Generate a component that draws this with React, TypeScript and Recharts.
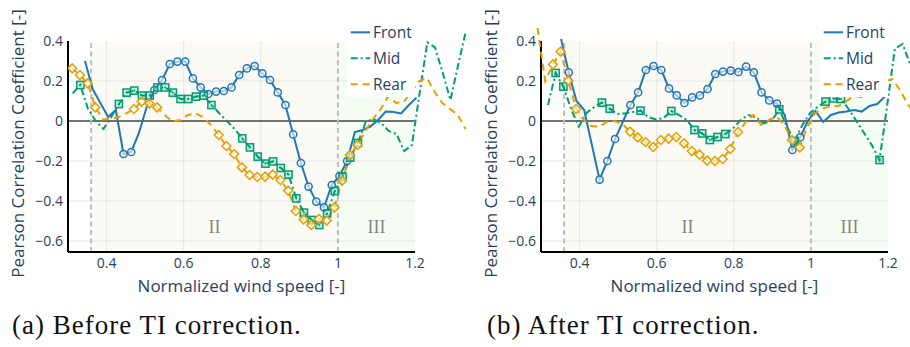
import React from "react";
import {
  Line,
  LineChart,
  ReferenceArea,
  ReferenceDot,
  ReferenceLine,
  XAxis,
  YAxis
} from "recharts";

// Normalized wind-speed bins shared by every series
const speedBins = [
  0.28, 0.3, 0.32, 0.34, 0.36, 0.38, 0.4, 0.42, 0.44, 0.46, 0.48, 0.5, 0.52, 0.54,
  0.56, 0.58, 0.6, 0.62, 0.64, 0.66, 0.68, 0.7, 0.72, 0.74, 0.76, 0.78, 0.8, 0.82,
  0.84, 0.86, 0.88, 0.9, 0.92, 0.94, 0.96, 0.98, 1.0, 1.02, 1.04, 1.06, 1.08, 1.1,
  1.12, 1.14, 1.16, 1.18, 1.2, 1.22, 1.24, 1.26, 1.28, 1.3, 1.32, 1.34, 1.36
];

// (a) before TI correction, values per bin (null = empty bin)
const frontBefore = [
  null, null, null, 0.3, 0.16, 0.09, 0.02, 0.055, -0.165, -0.155, -0.06, 0.07, 0.155,
  0.205, 0.285, 0.297, 0.297, 0.213, 0.168, 0.135, 0.147, 0.15, 0.168, 0.23, 0.263,
  0.275, 0.238, 0.205, 0.143, 0.08, -0.067, -0.21, -0.328, -0.403, -0.432, -0.32,
  -0.275, -0.2, -0.055, -0.045, -0.028, 0.005, 0.047, 0.045, 0.038, 0.08, 0.117
];
const midBefore = [
  null, 0.138, 0.18, 0.06, 0.0, -0.04, 0.02, 0.085, 0.142, 0.152, 0.127, 0.127, 0.168,
  0.168, 0.142, 0.11, 0.11, 0.122, 0.127, 0.08, 0.04, 0.0, -0.04, -0.087, -0.132,
  -0.178, -0.213, -0.202, -0.235, -0.268, -0.387, -0.458, -0.495, -0.52, -0.462,
  -0.35, -0.278, -0.183, -0.11, -0.005, 0.01, -0.01, -0.05, -0.065, -0.15, -0.12,
  0.14, 0.393, 0.368, 0.24, 0.105, 0.28, 0.45
];
const rearBefore = [
  null, 0.263, 0.23, 0.188, 0.068, 0.008, 0.01, 0.02, 0.038, 0.06, 0.097, 0.088, 0.068,
  0.03, -0.003, 0.005, 0.03, 0.038, 0.018, -0.02, -0.07, -0.125, -0.165, -0.232,
  -0.27, -0.28, -0.278, -0.268, -0.295, -0.348, -0.45, -0.492, -0.52, -0.49, -0.498,
  -0.432, -0.298, -0.17, -0.12, -0.05, 0.01, 0.06, 0.125, 0.09, 0.095, 0.147, 0.2,
  0.215, 0.145, 0.09, 0.06, 0.03, -0.04
];

// (b) after TI correction
const frontAfter = [
  null, null, null, 0.41, 0.243, 0.1, 0.055, -0.12, -0.293, -0.2, -0.09, -0.005, 0.08,
  0.143, 0.255, 0.275, 0.255, 0.163, 0.128, 0.09, 0.118, 0.128, 0.16, 0.235, 0.247,
  0.252, 0.245, 0.272, 0.243, 0.143, 0.103, 0.087, 0.03, -0.145, -0.082, 0.0, 0.05,
  -0.005, 0.03, 0.042, 0.047, 0.055, 0.047, 0.075, 0.085, 0.122
];
const midAfter = [
  null, 0.08, 0.24, 0.172, 0.06, -0.028, 0.04, 0.07, 0.092, 0.062, 0.035, 0.038, 0.045,
  0.052, 0.02, 0.008, 0.015, 0.05, 0.03, 0.005, -0.045, -0.062, -0.095, -0.08,
  -0.065, -0.037, 0.005, 0.03, 0.018, -0.012, 0.0, 0.058, -0.03, -0.1, -0.02, 0.04,
  0.072, 0.097, 0.113, 0.11, 0.06, 0.0, -0.06, -0.12, -0.195, 0.08, 0.363, 0.385, 0.28
];
const rearAfter = [
  0.465, 0.2, 0.283, 0.347, 0.202, 0.06, 0.005, -0.025, -0.028, -0.005, 0.0, -0.015,
  -0.053, -0.082, -0.105, -0.13, -0.095, -0.088, -0.08, -0.112, -0.15, -0.168, -0.198,
  -0.2, -0.19, -0.14, -0.055, -0.005, 0.03, -0.02, 0.005, 0.022, -0.02, -0.095,
  -0.132, -0.028, 0.04, 0.063, 0.072, 0.075, 0.097, 0.125, 0.12, 0.147, 0.175, 0.197,
  0.21, 0.155, 0.085, 0.03
];

// bins where the correlation is flagged (drawn with a marker)
const range = (a: number, b: number) => Array.from({ length: b - a + 1 }, (_, i) => a + i);
const frontBeforeMarked = [8, 9, ...range(12, 37)];
const midBeforeMarked = [2, ...range(7, 19), ...range(23, 38)];
const rearBeforeMarked = [...range(1, 4), ...range(9, 12), ...range(20, 38)];
const frontAfterMarked = [4, 8, 9, 10, ...range(12, 31), 33, 34];
const midAfterMarked = [2, 3, 8, 9, 13, 17, ...range(20, 24), 31, 33, 37, 38, 39, 44];
const rearAfterMarked = [2, 3, 4, 5, ...range(12, 26), 33, 34];

// per-turbine bin centre offsets
const binShift = {
  frontBefore: 0.004,
  midBefore: 0.012,
  rearBefore: 0.011,
  frontAfter: 0.012,
  midAfter: 0.018,
  rearAfter: 0.011
};

const xTicks = [0.4, 0.6, 0.8, 1, 1.2];
const yTicks = [-0.6, -0.4, -0.2, 0, 0.2, 0.4];
const gridX = [0.4, 0.6, 0.8];
const gridY = [-0.6, -0.4, -0.2, 0.2];
const regionBounds = [0.36, 1.0];
const regionLabels = [
  { text: "II", x: 0.68 },
  { text: "III", x: 1.1 }
];
const regionLabelY = -0.53;

const X_DOMAIN: [number, number] = [0.3, 1.2];
const Y_DOMAIN: [number, number] = [-0.655, 0.4];

const COLORS = { Front: "#1f77b4", Mid: "#009e73", Rear: "#e69f00" };
const DASHES = { Front: undefined, Mid: "7 3 2 3", Rear: "7 5" };
const INK = "#2a3f5f";
const FONT = "'Open Sans', sans-serif";

// frame geometry (px, relative to a panel)
const FRAME_W = 430;
const FRAME_H = 300;
const PLOT_L = 68;
const PLOT_R = 415;
const PLOT_T = 41;
const PLOT_B = 252;
const Y_AXIS_W = 50;
const X_AXIS_H = 30;
const PX_PER_X = (PLOT_R - PLOT_L) / (X_DOMAIN[1] - X_DOMAIN[0]);
const PX_PER_Y = (PLOT_B - PLOT_T) / (Y_DOMAIN[1] - Y_DOMAIN[0]);
const LINES_TOP = 26;

type Row = { x: number; y: number; marked: boolean };
type Shape = "circle" | "square" | "diamond";
type Series = { name: "Front" | "Mid" | "Rear"; shape: Shape; rows: Row[] };

function toRows(values: (number | null)[], shift: number, marked: number[]): Row[] {
  const rows: Row[] = [];
  values.forEach((v, i) => {
    if (v !== null) rows.push({ x: speedBins[i] + shift, y: v, marked: marked.includes(i) });
  });
  return rows;
}

const beforeSeries: Series[] = [
  { name: "Front", shape: "circle", rows: toRows(frontBefore, binShift.frontBefore, frontBeforeMarked) },
  { name: "Mid", shape: "square", rows: toRows(midBefore, binShift.midBefore, midBeforeMarked) },
  { name: "Rear", shape: "diamond", rows: toRows(rearBefore, binShift.rearBefore, rearBeforeMarked) }
];
const afterSeries: Series[] = [
  { name: "Front", shape: "circle", rows: toRows(frontAfter, binShift.frontAfter, frontAfterMarked) },
  { name: "Mid", shape: "square", rows: toRows(midAfter, binShift.midAfter, midAfterMarked) },
  { name: "Rear", shape: "diamond", rows: toRows(rearAfter, binShift.rearAfter, rearAfterMarked) }
];

const fmtTick = (v: number) => (v < 0 ? "\u2212" + Math.abs(v) : String(v));

function renderMarker(props: any, shape: Shape, color: string) {
  const { cx, cy, payload, index } = props;
  const key = `m-${index}`;
  if (!payload || !payload.marked || cx == null || cy == null) return <g key={key} />;
  if (shape === "circle") {
    return (
      <circle key={key} cx={cx} cy={cy} r={3.6} fill="#fff" fillOpacity={0.6} stroke={color} strokeWidth={1.5} />
    );
  }
  if (shape === "square") {
    return (
      <g key={key}>
        <rect x={cx - 3.6} y={cy - 3.6} width={7.2} height={7.2} fill={color} fillOpacity={0.18} stroke={color} strokeWidth={1.5} />
        <circle cx={cx} cy={cy} r={1} fill={color} />
      </g>
    );
  }
  const s = 4.5;
  return (
    <path
      key={key}
      d={`M${cx},${cy - s}L${cx + s},${cy}L${cx},${cy + s}L${cx - s},${cy}Z`}
      fill="#fff"
      fillOpacity={0.6}
      stroke={color}
      strokeWidth={1.5}
    />
  );
}

function Frame({ rows }: { rows: Row[] }) {
  return (
    <LineChart
      width={FRAME_W}
      height={FRAME_H}
      data={rows}
      margin={{ top: PLOT_T, right: FRAME_W - PLOT_R, left: PLOT_L - Y_AXIS_W, bottom: FRAME_H - PLOT_B - X_AXIS_H }}
    >
      <ReferenceArea x1={regionBounds[0]} x2={regionBounds[1]} fill="#e6cf9a" fillOpacity={0.1} stroke="none" />
      <ReferenceArea x1={regionBounds[1]} x2={X_DOMAIN[1]} fill="#8fe08f" fillOpacity={0.1} stroke="none" />
      {gridX.map((v) => (
        <ReferenceLine key={`gx${v}`} x={v} stroke="#e6e6e6" strokeWidth={1} />
      ))}
      {gridY.map((v) => (
        <ReferenceLine key={`gy${v}`} y={v} stroke="#e6e6e6" strokeWidth={1} />
      ))}
      <ReferenceLine y={0} stroke="#444" strokeWidth={1.3} />
      {regionBounds.map((v) => (
        <ReferenceLine key={`rb${v}`} x={v} stroke="#bdbdbd" strokeWidth={2} strokeDasharray="5 3.5" />
      ))}
      {regionLabels.map((r) => (
        <ReferenceDot
          key={r.text}
          x={r.x}
          y={regionLabelY}
          r={0}
          fill="none"
          stroke="none"
          label={{
            value: r.text,
            position: "center",
            fill: "#858585",
            fontSize: 18,
            fontFamily: "'Liberation Serif', serif"
          }}
        />
      ))}
      <XAxis
        dataKey="x"
        type="number"
        domain={X_DOMAIN}
        allowDataOverflow
        ticks={xTicks}
        tickFormatter={fmtTick}
        height={X_AXIS_H}
        tickLine={false}
        tickSize={0}
        tickMargin={6}
        axisLine={{ stroke: "#000", strokeWidth: 2 }}
        tick={{ fill: INK, fontSize: 14, fontFamily: FONT }}
        label={{
          content: (p: any) => {
            const vb = p.viewBox || {};
            return (
              <text
                x={vb.x + vb.width / 2}
                y={vb.y + 33}
                textAnchor="middle"
                dominantBaseline="central"
                fill={INK}
                fontSize={17}
                fontFamily={FONT}
              >
                Normalized wind speed [-]
              </text>
            );
          }
        }}
      />
      <YAxis
        type="number"
        domain={Y_DOMAIN}
        allowDataOverflow
        ticks={yTicks}
        tickFormatter={fmtTick}
        width={Y_AXIS_W}
        tickLine={false}
        tickSize={0}
        tickMargin={5}
        axisLine={{ stroke: "#000", strokeWidth: 2 }}
        tick={{ fill: INK, fontSize: 14, fontFamily: FONT }}
        label={{
          content: (p: any) => {
            const vb = p.viewBox || {};
            const cx = vb.x - 0.5;
            const cy = vb.y + vb.height / 2 - 3;
            return (
              <text
                x={cx}
                y={cy}
                transform={`rotate(-90, ${cx}, ${cy})`}
                textAnchor="middle"
                dominantBaseline="central"
                fill={INK}
                fontSize={17}
                fontFamily={FONT}
              >
                Pearson Correlation Coefficient [-]
              </text>
            );
          }
        }}
      />
    </LineChart>
  );
}

function Traces({ series, left, right }: { series: Series[]; left: number; right: number }) {
  const xDomain: [number, number] = [
    X_DOMAIN[0] + (left - PLOT_L) / PX_PER_X,
    X_DOMAIN[0] + (right - PLOT_L) / PX_PER_X
  ];
  const yDomain: [number, number] = [Y_DOMAIN[0], Y_DOMAIN[1] + (PLOT_T - LINES_TOP) / PX_PER_Y];
  return (
    <LineChart width={right} height={FRAME_H} margin={{ top: LINES_TOP, right: 0, left, bottom: FRAME_H - PLOT_B }}>
      <XAxis dataKey="x" type="number" domain={xDomain} allowDataOverflow hide />
      <YAxis type="number" domain={yDomain} allowDataOverflow hide />
      {series.map((s) => (
        <Line
          key={s.name}
          data={s.rows}
          dataKey="y"
          name={s.name}
          type="linear"
          stroke={COLORS[s.name]}
          strokeWidth={2}
          strokeDasharray={DASHES[s.name]}
          dot={(p: any) => renderMarker(p, s.shape, COLORS[s.name])}
          activeDot={false}
          isAnimationActive={false}
        />
      ))}
    </LineChart>
  );
}

function LegendBox() {
  const names: ("Front" | "Mid" | "Rear")[] = ["Front", "Mid", "Rear"];
  return (
    <div style={{ position: "absolute", left: 347, top: 21, width: 68, height: 76, background: "#fff" }}>
      {names.map((n, i) => (
        <div key={n} style={{ position: "absolute", left: 0, top: i * 26, height: 22, display: "flex", alignItems: "center" }}>
          <svg width={26} height={22} style={{ display: "block" }}>
            <line x1={3.7} x2={23} y1={11.3} y2={11.3} stroke={COLORS[n]} strokeWidth={2} strokeDasharray={DASHES[n]} />
          </svg>
          <span style={{ fontFamily: FONT, fontSize: 15.5, color: INK, lineHeight: "22px" }}>{n}</span>
        </div>
      ))}
    </div>
  );
}

function Panel({
  offset,
  series,
  linesLeft,
  linesRight,
  caption,
  captionLeft
}: {
  offset: number;
  series: Series[];
  linesLeft: number;
  linesRight: number;
  caption: string;
  captionLeft: number;
}) {
  return (
    <div style={{ position: "absolute", left: offset, top: 0, width: linesRight, height: 347 }}>
      <div style={{ position: "absolute", left: 0, top: 0 }}>
        <Frame rows={series[0].rows} />
      </div>
      <div style={{ position: "absolute", left: 0, top: 0 }}>
        <Traces series={series} left={linesLeft} right={linesRight} />
      </div>
      <LegendBox />
      <div
        style={{
          position: "absolute",
          left: captionLeft,
          top: 310,
          whiteSpace: "nowrap",
          fontFamily: "'Liberation Serif', serif",
          fontSize: 27,
          letterSpacing: 1,
          lineHeight: "30px",
          color: "#111"
        }}
      >
        {caption}
      </div>
    </div>
  );
}

export default function App() {
  return (
    <div style={{ position: "absolute", left: 0, top: 0, width: 910, height: 347, overflow: "hidden", background: "#fff" }}>
      <Panel
        offset={0}
        series={beforeSeries}
        linesLeft={68}
        linesRight={472}
        caption="(a) Before TI correction."
        captionLeft={12}
      />
      <Panel
        offset={473}
        series={afterSeries}
        linesLeft={63}
        linesRight={437}
        caption="(b) After TI correction."
        captionLeft={14}
      />
    </div>
  );
}
